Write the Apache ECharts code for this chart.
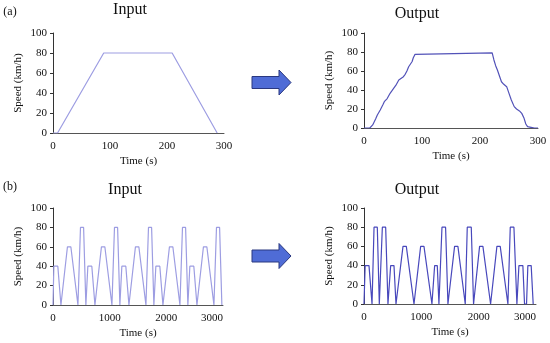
<!DOCTYPE html>
<html>
<head>
<meta charset="utf-8">
<script src="https://cdn.jsdelivr.net/npm/echarts@6/dist/echarts.min.js"></script>
<style>
html,body{margin:0;padding:0;background:#fff;}
#c{width:550px;height:343px;}
</style>
</head>
<body>
<div id="c"></div>
<script>
// ---- data (time in s, speed in km/h) ----
const panelTitles = ['Input', 'Output', 'Input', 'Output'];
const panelLabels = ['(a)', '(b)'];
const yTicks = [0, 20, 40, 60, 80, 100];
const xTicksA = [0, 100, 200, 300];
const xTicksB = [0, 1000, 2000, 3000];
const yAxisName = 'Speed (km/h)';
const xAxisName = 'Time (s)';

const inputA = [[0,0],[8,0],[89,80],[209,80],[288,0]];

const outputA = [[0,0],[10,0],[13,1.4],[15,3.2],[20,9.5],[23,13.7],[25,15.4],[28,19],[33,25],[35,27.7],
  [40,31],[45,36.5],[48,39],[51,40],[56,46],[60,50.5],[63,52.3],[68,54],[71,56.5],[74,60],[77,64.5],
  [80,66.3],[83,70],[85,74],[88,77.5],[91,79],[221,79],[224,71.6],[227,65.6],[230,61],[234,54],
  [237,48.7],[241,46],[246,43.5],[250,36.5],[254,29.5],[259,22.5],[263,20],[268,18],[272,15.4],
  [276,10.2],[279,4.2],[282,1.4],[288,0.7],[294,0],[300,0]];

const inputB = [
  [0,0],[15,40],[85,40],[140,0],[255,60],[315,60],[440,0],[455,0],[485,80],[540,80],[580,0],
  [600,0],[615,40],[685,40],[740,0],[855,60],[915,60],[1040,0],[1055,0],[1085,80],[1140,80],[1180,0],
  [1200,0],[1215,40],[1285,40],[1340,0],[1455,60],[1515,60],[1640,0],[1655,0],[1685,80],[1740,80],[1780,0],
  [1800,0],[1815,40],[1885,40],[1940,0],[2055,60],[2115,60],[2240,0],[2255,0],[2285,80],[2340,80],[2380,0],
  [2400,0],[2415,40],[2485,40],[2540,0],[2655,60],[2715,60],[2840,0],[2855,0],[2885,80],[2940,80],[2980,0]];

const outputB = [[0,0],[20,40],[87,40],[140,0],[145,0],[175,80],[232,80],[267,0],[290,0],[320,80],
  [378,80],[418,0],[436,0],[465,40],[523,40],[558,0],[680,60],[738,60],[872,0],[988,60],[1046,60],
  [1185,0],[1203,0],[1232,40],[1278,40],[1307,0],[1330,0],[1360,80],[1423,80],[1464,0],[1580,60],
  [1638,60],[1766,0],[1801,80],[1871,80],[1911,0],[2016,60],[2074,60],[2208,0],[2318,60],[2376,60],
  [2510,0],[2521,0],[2551,80],[2615,80],[2667,0],[2684,0],[2702,40],[2771,40],[2800,0],[2835,0],
  [2858,40],[2916,40],[2951,0]];

// ---- chart ----
const FONT = '"Liberation Serif", "Times New Roman", serif';
const grids = [
  {left: 53, top: 33, width: 171, height: 100},
  {left: 364, top: 33, width: 174, height: 95},
  {left: 53, top: 208, width: 170, height: 97},
  {left: 364, top: 208, width: 172, height: 96}
];
const xTickSets = [xTicksA, xTicksA, xTicksB, xTicksB];
const lineColors = ['#9d9de2', '#5252b8', '#9d9de2', '#4848bc'];
const seriesData = [inputA, outputA, inputB, outputB];

const xAxes = grids.map((g, i) => {
  const t = xTickSets[i];
  const label = {fontFamily: FONT, fontSize: 11, color: '#111', margin: 8, formatter: v => String(v)};
  if (i >= 2) label.alignMaxLabel = 'right';
  return {
    gridIndex: i, type: 'value', min: t[0], max: t[t.length - 1], interval: t[1] - t[0],
    name: xAxisName, nameLocation: 'middle', nameGap: 23,
    nameTextStyle: {fontFamily: FONT, fontSize: 11, color: '#111'},
    axisLine: {show: true, lineStyle: {color: '#555', width: 1}},
    axisTick: {show: false},
    splitLine: {show: false},
    axisLabel: label
  };
});
const yAxes = grids.map((g, i) => ({
  gridIndex: i, type: 'value', min: yTicks[0], max: yTicks[yTicks.length - 1], interval: yTicks[1] - yTicks[0],
  name: yAxisName, nameLocation: 'middle', nameGap: 29, nameRotate: 90,
  nameTextStyle: {fontFamily: FONT, fontSize: 11, color: '#111'},
  axisLine: {show: true, lineStyle: {color: '#333', width: 1}},
  axisTick: {show: true, length: 3, lineStyle: {color: '#333'}},
  splitLine: {show: false},
  axisLabel: {fontFamily: FONT, fontSize: 11, color: '#111', margin: 6, formatter: v => String(v)}
}));
const series = seriesData.map((d, i) => ({
  type: 'line', xAxisIndex: i, yAxisIndex: i, data: d, showSymbol: false, silent: true,
  lineStyle: {color: lineColors[i], width: 1.2}, animation: false
}));

function arrow(cy) {
  return {
    type: 'polygon',
    shape: {points: [[252, cy - 6], [279, cy - 6], [279, cy - 12.5], [291, cy], [279, cy + 12.5], [279, cy + 6], [252, cy + 6]]},
    style: {fill: '#4f6cd6', stroke: '#2a3880', lineWidth: 1}
  };
}
function txt(x, y, s, size) {
  return {type: 'text', x: x, y: y, style: {text: s, fontFamily: FONT, fontSize: size, fill: '#111', align: 'center', verticalAlign: 'middle'}};
}

const graphic = [
  txt(130, 10, panelTitles[0], 16),
  txt(417, 14, panelTitles[1], 16),
  txt(125, 190, panelTitles[2], 16),
  txt(417, 190, panelTitles[3], 16),
  txt(10, 12, panelLabels[0], 12),
  txt(10, 187, panelLabels[1], 12),
  arrow(82.5),
  arrow(256)
];

const chart = echarts.init(document.getElementById('c'), null, {renderer: 'canvas'});
chart.setOption({
  animation: false,
  backgroundColor: '#fff',
  grid: grids,
  xAxis: xAxes,
  yAxis: yAxes,
  series: series,
  graphic: graphic
});
</script>
</body>
</html>
